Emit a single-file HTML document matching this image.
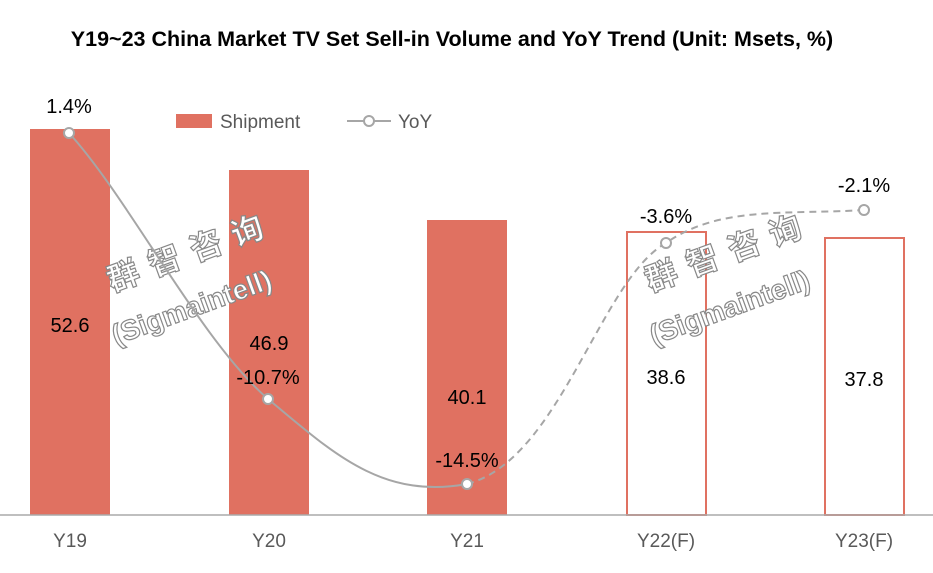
<!DOCTYPE html>
<html><head><meta charset="utf-8"><style>body{margin:0;background:#fff}svg{display:block}</style></head><body>
<svg width="933" height="573" xmlns="http://www.w3.org/2000/svg" font-family="Liberation Sans, Noto Sans CJK SC, sans-serif">
<rect width="933" height="573" fill="#fff"/>
<text x="452" y="46" text-anchor="middle" font-size="21.5" font-weight="bold">Y19~23 China Market TV Set Sell-in Volume and YoY Trend (Unit: Msets, %)</text>
<g fill="#E07161">
<rect x="30" y="129" width="80" height="386"/>
<rect x="229" y="170" width="80" height="345"/>
<rect x="427" y="220" width="80" height="295"/>
</g>
<g fill="#fff" stroke="#E07161" stroke-width="2">
<rect x="627" y="232" width="79" height="283"/>
<rect x="825" y="238" width="79" height="277"/>
</g>
<line x1="0" y1="515" x2="933" y2="515" stroke="#aaa" stroke-width="1.5"/>
<g font-size="19" fill="#595959" text-anchor="middle">
<text x="70" y="547">Y19</text><text x="269" y="547">Y20</text><text x="467" y="547">Y21</text><text x="666" y="547">Y22(F)</text><text x="864" y="547">Y23(F)</text>
</g>
<g font-size="32" font-weight="bold" fill="#fff" stroke="#888" stroke-width="1.2">
<text transform="translate(112,292) rotate(-20)" letter-spacing="12">群智咨询</text>
<text transform="translate(116,345) rotate(-20)" font-size="28">(Sigmaintell)</text>
<text transform="translate(650,292) rotate(-20)" letter-spacing="12">群智咨询</text>
<text transform="translate(654,345) rotate(-20)" font-size="28">(Sigmaintell)</text>
</g>
<path d="M69,133 C130,200 200,340 268,399 C330,450 380,500 467,484" fill="none" stroke="#a6a6a6" stroke-width="2"/>
<path d="M467,484 C560,460 600,280 666,243 C720,205 790,215 864,210" fill="none" stroke="#a6a6a6" stroke-width="2" stroke-dasharray="7,5"/>
<g fill="#fff" stroke="#a6a6a6" stroke-width="2">
<circle cx="69" cy="133" r="5"/><circle cx="268" cy="399" r="5"/><circle cx="467" cy="484" r="5"/><circle cx="666" cy="243" r="5"/><circle cx="864" cy="210" r="5"/>
</g>
<g font-size="20" text-anchor="middle" fill="#000">
<text x="70" y="332">52.6</text><text x="269" y="350">46.9</text><text x="467" y="404">40.1</text><text x="666" y="384">38.6</text><text x="864" y="386">37.8</text>
<text x="69" y="113">1.4%</text><text x="268" y="384">-10.7%</text><text x="467" y="467">-14.5%</text><text x="666" y="223">-3.6%</text><text x="864" y="192">-2.1%</text>
</g>
<rect x="176" y="114" width="36" height="14" fill="#E07161"/>
<text x="220" y="128" font-size="19" fill="#595959">Shipment</text>
<line x1="347" y1="121" x2="391" y2="121" stroke="#a6a6a6" stroke-width="2"/>
<circle cx="369" cy="121" r="5" fill="#fff" stroke="#a6a6a6" stroke-width="2"/>
<text x="398" y="128" font-size="19" fill="#595959">YoY</text>
</svg>
</body></html>
